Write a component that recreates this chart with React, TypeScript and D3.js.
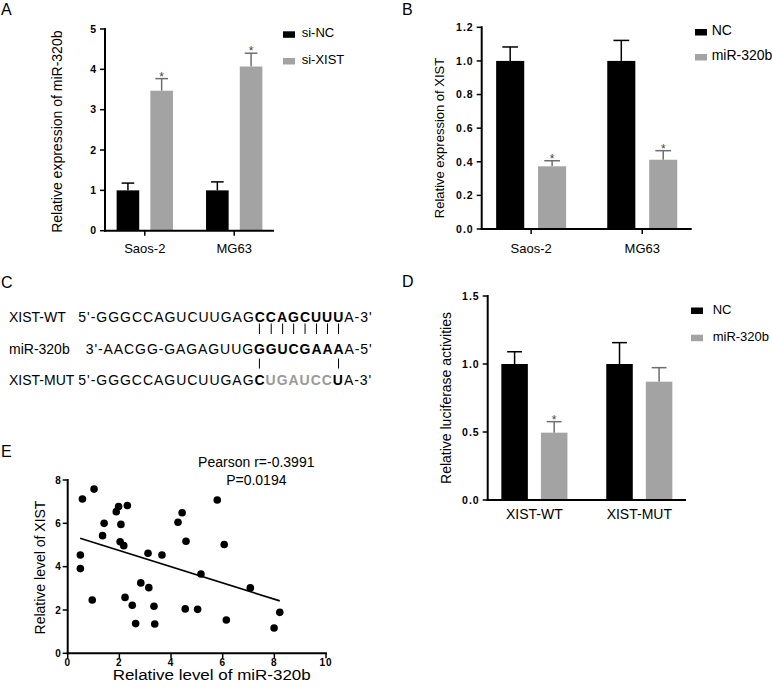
import * as d3 from 'd3'
import { useLayoutEffect, useRef, useState } from 'react'

const FONT = "'Liberation Sans', Arial, Helvetica, sans-serif"
const GREY = '#a3a3a3'
const GREY_ERR = '#6e6e6e'
const GREY_SEQ = '#9a9a9a'

// --- A: miR-320b after XIST knockdown
const cellLines = ['Saos-2', 'MG63']
const aSeries = ['si-NC', 'si-XIST']
const aMeans = [[1.0, 1.0], [3.47, 4.07]]
const aErrors = [[0.18, 0.21], [0.30, 0.33]]
const aStars = [[false, false], [true, true]]
const aTicks = [0, 1, 2, 3, 4, 5]

// --- B: XIST after miR-320b mimic
const bSeries = ['NC', 'miR-320b']
const bMeans = [[1.0, 1.0], [0.373, 0.412]]
const bErrors = [[0.083, 0.122], [0.033, 0.054]]
const bStars = [[false, false], [true, true]]
const bTicks = [0, 0.2, 0.4, 0.6, 0.8, 1.0, 1.2]

// --- C: binding site
const seqLabels = ['XIST-WT', 'miR-320b', 'XIST-MUT']
const seqHeads = ["5'-GGGCCAGUCUUGAG", "3'-AACGG-GAGAGUUG", "5'-GGGCCAGUCUUGAG"]
const seqSites = [
  [{ t: 'CCAGCUUU', grey: false }],
  [{ t: 'GGUCGAAA', grey: false }],
  [{ t: 'C', grey: false }, { t: 'UGAUCC', grey: true }, { t: 'U', grey: false }],
]
const seqTails = ["A-3'", "A-5'", "A-3'"]
const pairsWt = [0, 1, 2, 3, 4, 5, 6, 7]
const pairsMut = [0, 7]

// --- D: luciferase reporter
const reporters = ['XIST-WT', 'XIST-MUT']
const dSeries = ['NC', 'miR-320b']
const dMeans = [[1.0, 1.0], [0.495, 0.87]]
const dErrors = [[0.09, 0.157], [0.081, 0.103]]
const dStars = [[false, false], [true, false]]
const dTicks = [0, 0.5, 1.0, 1.5]

// --- E: correlation in tissue
const eMir = [0.57, 1.02, 0.49, 0.49, 0.95, 1.41, 1.35, 1.88, 1.97, 2.31, 2.06, 2.03, 2.17, 2.22, 2.5, 2.63, 2.83,
  3.11, 3.14, 3.34, 3.37, 3.65, 4.27, 4.43, 4.58, 4.55, 5.03, 5.16, 5.79, 6.06, 6.14, 7.07, 7.99, 8.21]
const eXist = [7.12, 7.58, 4.54, 3.91, 2.46, 6.0, 5.43, 6.54, 6.77, 6.82, 5.95, 5.15, 4.97, 2.58, 2.22, 1.37, 3.25,
  4.62, 3.03, 2.17, 1.35, 4.54, 6.05, 6.49, 5.17, 2.05, 2.03, 3.66, 7.08, 5.02, 1.54, 3.02, 1.17, 1.89]
const eFitX = [0.48, 8.21]
const eFitY = [5.31, 2.42]
const eTicksX = [0, 2, 4, 6, 8, 10]
const eTicksY = [0, 2, 4, 6, 8]
const eStats = ['Pearson r=-0.3991', 'P=0.0194']

type BarProps = {
  groups: string[]; series: string[]; means: number[][]; errors: number[][]; stars: boolean[][]
  ticks: number[]; fmt: (v: number) => string
  left: number; right: number; top: number; bottom: number
  yTitle: string; yTitleX: number; yTitleY: number; titleSize: number
  labelSize: number; labelY: number; xTicks: boolean
  legendX: number; legendY: number; legendDy: number; legendSize: number; legendGap: number
}

function BarPanel(p: BarProps) {
  const x = d3.scaleBand(p.groups, [p.left, p.right]).paddingInner(0.37).paddingOuter(0.13)
  const xi = d3.scaleBand(p.series, [0, x.bandwidth()]).paddingInner(0.33)
  const y = d3.scaleLinear([0, d3.max(p.ticks)!], [p.bottom, p.top])
  const bw = xi.bandwidth()

  return (
    <g fontFamily={FONT}>
      {p.series.map((s, si) => p.groups.map((g, gi) => {
        const m = p.means[si][gi]
        const e = p.errors[si][gi]
        const cx = x(g)! + xi(s)! + bw / 2
        const col = si === 0 ? '#000' : GREY
        const ecol = si === 0 ? '#000' : GREY_ERR
        return (
          <g key={s + g}>
            <line x1={cx} x2={cx} y1={y(m)} y2={y(m + e)} stroke={ecol} strokeWidth={1.5} />
            <line x1={cx - bw * 0.28} x2={cx + bw * 0.28} y1={y(m + e)} y2={y(m + e)} stroke={ecol} strokeWidth={1.5} />
            <rect x={x(g)! + xi(s)!} y={y(m)} width={bw} height={p.bottom - y(m)} fill={col} />
            {p.stars[si][gi] && (
              <text x={cx} y={y(m + e) + 2} textAnchor="middle" fontSize={12} fill="#444">*</text>
            )}
          </g>
        )
      }))}

      {/* axes */}
      <line x1={p.left} x2={p.left} y1={p.top - 1} y2={p.bottom + 1} stroke="#000" strokeWidth={2} />
      <line x1={p.left - 1} x2={p.right} y1={p.bottom} y2={p.bottom} stroke="#000" strokeWidth={2} />
      {p.ticks.map(t => (
        <g key={t}>
          <line x1={p.left - 5} x2={p.left} y1={y(t)} y2={y(t)} stroke="#000" strokeWidth={1.5} />
          <text x={p.left - 8} y={y(t)} dy="0.36em" textAnchor="end" fontSize={10.5} fontWeight="bold" letterSpacing={1}>
            {p.fmt(t)}
          </text>
        </g>
      ))}
      {p.groups.map(g => (
        <g key={g}>
          {p.xTicks && (
            <line x1={x(g)! + x.bandwidth() / 2} x2={x(g)! + x.bandwidth() / 2} y1={p.bottom} y2={p.bottom + 5} stroke="#000" strokeWidth={1.5} />
          )}
          <text x={x(g)! + x.bandwidth() / 2} y={p.labelY} textAnchor="middle" fontSize={p.labelSize}>{g}</text>
        </g>
      ))}
      <text transform={`translate(${p.yTitleX},${p.yTitleY}) rotate(-90)`} textAnchor="middle" fontSize={p.titleSize}>
        {p.yTitle}
      </text>

      {/* legend */}
      {p.series.map((s, si) => (
        <g key={s}>
          <rect x={p.legendX} y={p.legendY + si * p.legendDy - 6} width={12} height={6.5} fill={si === 0 ? '#000' : GREY} />
          <text x={p.legendX + p.legendGap} y={p.legendY + si * p.legendDy} fontSize={p.legendSize}>{s}</text>
        </g>
      ))}
    </g>
  )
}

function SequencePanel() {
  const siteRef = useRef<SVGTSpanElement | null>(null)
  const [siteX, setSiteX] = useState<number[]>([])
  const rowX = [78.3, 85.7, 78.3]
  const rowLen = [293.4, 286, 293]
  const rowY = [322, 353.5, 385]

  useLayoutEffect(() => {
    const el = siteRef.current
    if (!el) return
    const xs = d3.range(el.getNumberOfChars()).map(i =>
      (el.getStartPositionOfChar(i).x + el.getEndPositionOfChar(i).x) / 2)
    setSiteX(xs)
  }, [])

  return (
    <g fontFamily={FONT} fontSize={14}>
      {seqLabels.map((lab, i) => (
        <g key={lab}>
          <text x={9} y={rowY[i]}>{lab}</text>
          <text x={rowX[i]} y={rowY[i]} textLength={rowLen[i]} lengthAdjust="spacing">
            <tspan>{seqHeads[i]}</tspan>
            {seqSites[i].map((s, k) => (
              <tspan key={k} ref={i === 1 ? siteRef : undefined} fontWeight="bold" fill={s.grey ? GREY_SEQ : '#000'}>{s.t}</tspan>
            ))}
            <tspan>{seqTails[i]}</tspan>
          </text>
        </g>
      ))}
      {siteX.length > 0 && pairsWt.map(k => (
        <line key={'w' + k} x1={siteX[k]} x2={siteX[k]} y1={323.5} y2={334} stroke="#000" strokeWidth={1} />
      ))}
      {siteX.length > 0 && pairsMut.map(k => (
        <line key={'m' + k} x1={siteX[k]} x2={siteX[k]} y1={358.5} y2={368.5} stroke="#000" strokeWidth={1} />
      ))}
    </g>
  )
}

function ScatterPanel() {
  const x = d3.scaleLinear([0, 10], [67.7, 326])
  const y = d3.scaleLinear([0, 8], [653.3, 480])
  const fit = d3.line<number>().x(v => x(v)).y((_, i) => y(eFitY[i]))

  return (
    <g fontFamily={FONT}>
      <line x1={x(0)} x2={x(0)} y1={y(8) - 1} y2={y(0) + 1} stroke="#000" strokeWidth={2} />
      <line x1={x(0) - 1} x2={x(10) + 1} y1={y(0)} y2={y(0)} stroke="#000" strokeWidth={2} />
      {eTicksY.map(t => (
        <g key={t}>
          <line x1={x(0) - 5} x2={x(0)} y1={y(t)} y2={y(t)} stroke="#000" strokeWidth={1.5} />
          <text x={x(0) - 7} y={y(t)} dy="0.36em" textAnchor="end" fontSize={10} fontWeight="bold">{t}</text>
        </g>
      ))}
      {eTicksX.map(t => (
        <g key={t}>
          <line x1={x(t)} x2={x(t)} y1={y(0)} y2={y(0) + 5} stroke="#000" strokeWidth={1.5} />
          <text x={x(t)} y={665.5} textAnchor="middle" fontSize={10} fontWeight="bold" letterSpacing={1}>{t}</text>
        </g>
      ))}
      <path d={fit(eFitX) || ''} fill="none" stroke="#000" strokeWidth={1.6} />
      {eMir.map((v, i) => (
        <circle key={i} cx={x(v)} cy={y(eXist[i])} r={3.8} fill="#000" />
      ))}
      {eStats.map((s, i) => (
        <text key={s} x={256.3} y={467 + i * 18} textAnchor="middle" fontSize={14}>{s}</text>
      ))}
      <text x={211.7} y={680} textAnchor="middle" fontSize={14} textLength={198} lengthAdjust="spacingAndGlyphs">
        Relative level of miR-320b
      </text>
      <text transform="translate(45,567.5) rotate(-90)" textAnchor="middle" fontSize={14}>Relative level of XIST</text>
    </g>
  )
}

export default function App() {
  const fmt1 = d3.format('.1f')
  const fmt0 = d3.format('d')
  return (
    <svg width={772} height={690} style={{ position: 'absolute', left: 0, top: 0, background: '#fff' }}>
      <g fontFamily={FONT} fontSize={16}>
        <text x={1} y={15}>A</text>
        <text x={402} y={15}>B</text>
        <text x={1} y={288}>C</text>
        <text x={402} y={287}>D</text>
        <text x={1} y={457}>E</text>
      </g>

      <BarPanel
        groups={cellLines} series={aSeries} means={aMeans} errors={aErrors} stars={aStars}
        ticks={aTicks} fmt={fmt0}
        left={105} right={274} top={29} bottom={230.7}
        yTitle="Relative expression of miR-320b" yTitleX={62} yTitleY={131.7} titleSize={14}
        labelSize={13} labelY={253} xTicks={true}
        legendX={283} legendY={37.3} legendDy={26.7} legendSize={13} legendGap={18.7}
      />
      <BarPanel
        groups={cellLines} series={bSeries} means={bMeans} errors={bErrors} stars={bStars}
        ticks={bTicks} fmt={fmt1}
        left={481.7} right={691.7} top={27.3} bottom={229}
        yTitle="Relative expression of XIST" yTitleX={444} yTitleY={138} titleSize={13}
        labelSize={13} labelY={253} xTicks={true}
        legendX={695} legendY={35} legendDy={25} legendSize={14} legendGap={16.7}
      />
      <SequencePanel />
      <BarPanel
        groups={reporters} series={dSeries} means={dMeans} errors={dErrors} stars={dStars}
        ticks={dTicks} fmt={fmt1}
        left={487.7} right={686} top={296} bottom={500}
        yTitle="Relative luciferase activities" yTitleX={451} yTitleY={398} titleSize={14}
        labelSize={14} labelY={519.3} xTicks={false}
        legendX={691} legendY={313.5} legendDy={27.2} legendSize={13} legendGap={21.7}
      />
      <ScatterPanel />
    </svg>
  )
}
